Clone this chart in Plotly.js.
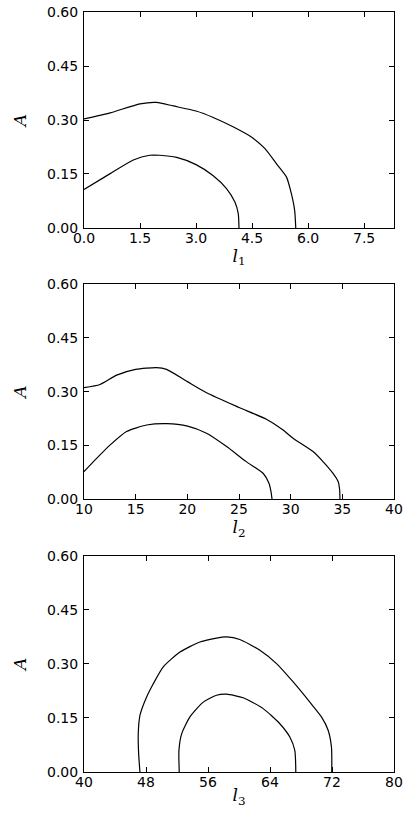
<!DOCTYPE html>
<html>
<head>
<meta charset="utf-8">
<script src="https://cdn.plot.ly/plotly-3.0.1.min.js"></script>
<style>
  html, body { margin: 0; padding: 0; background: #fff; }
  #plot { width: 415px; height: 817px; }
</style>
</head>
<body>
<div id="plot"></div>
<script>
// panel 1: A vs l1
const l1Outer = [0, 0.7, 1.5, 1.94, 2.39, 3.0, 3.46, 3.99, 4.49, 4.84, 5.15, 5.42, 5.55, 5.64, 5.67];
const a1Outer = [0.303, 0.320, 0.345, 0.349, 0.339, 0.325, 0.307, 0.281, 0.252, 0.221, 0.179, 0.142, 0.096, 0.049, 0];
const l1Inner = [0, 0.7, 1.32, 1.76, 2.03, 2.48, 3.0, 3.46, 3.81, 4.04, 4.13, 4.15];
const a1Inner = [0.107, 0.151, 0.189, 0.202, 0.202, 0.196, 0.176, 0.145, 0.110, 0.072, 0.040, 0];

// panel 2: A vs l2
const l2Outer = [10, 11.55, 13.16, 15, 17.02, 17.99, 20, 21.86, 25, 27.65, 29.27, 30.23, 32.16, 33.13, 34.1, 34.6, 34.74, 34.77];
const a2Outer = [0.311, 0.320, 0.346, 0.362, 0.367, 0.362, 0.328, 0.297, 0.256, 0.223, 0.193, 0.170, 0.133, 0.105, 0.072, 0.049, 0.026, 0];
const l2Inner = [10, 11.22, 12.51, 14.12, 16.06, 18.0, 20.03, 21.86, 23.8, 25.7, 27.35, 27.9, 28.1, 28.2];
const a2Inner = [0.077, 0.114, 0.151, 0.189, 0.207, 0.211, 0.204, 0.184, 0.147, 0.105, 0.072, 0.045, 0.021, 0];

// panel 3: A vs l3
const l3Outer = [47.22, 47.05, 47.0, 47.22, 48.08, 48.94, 50.23, 52.38, 54.95, 57.1, 58.39, 60.1, 62.7, 64.84, 66.99, 69.14, 70.64, 71.5, 71.93, 71.97];
const a3Outer = [0, 0.051, 0.106, 0.157, 0.208, 0.245, 0.292, 0.333, 0.361, 0.372, 0.375, 0.368, 0.338, 0.301, 0.250, 0.194, 0.153, 0.116, 0.069, 0];
const l3Inner = [52.29, 52.25, 52.6, 53.67, 55.39, 57.1, 58.39, 60.54, 63.12, 65.27, 66.56, 67.2, 67.33];
const a3Inner = [0, 0.060, 0.106, 0.153, 0.194, 0.213, 0.216, 0.206, 0.176, 0.134, 0.097, 0.060, 0];

const xRanges = [[0, 8.3], [10, 40], [40, 80]];
const xTicks = [[0, 1.5, 3, 4.5, 6, 7.5], [10, 15, 20, 25, 30, 35, 40], [40, 48, 56, 64, 72, 80]];
const xTickText = [['0.0', '1.5', '3.0', '4.5', '6.0', '7.5'], ['10', '15', '20', '25', '30', '35', '40'], ['40', '48', '56', '64', '72', '80']];
const yTicks = [0, 0.15, 0.3, 0.45, 0.6];
const yTickText = ['0.00', '0.15', '0.30', '0.45', '0.60'];
const xLabels = ['<i>l</i><sub>1</sub>', '<i>l</i><sub>2</sub>', '<i>l</i><sub>3</sub>'];

const curves = [
    [l1Outer, a1Outer, 1], [l1Inner, a1Inner, 1],
    [l2Outer, a2Outer, 2], [l2Inner, a2Inner, 2],
    [l3Outer, a3Outer, 3], [l3Inner, a3Inner, 3]
];

const data = curves.map(([x, y, k]) => ({
    x: x,
    y: y,
    xaxis: k === 1 ? 'x' : 'x' + k,
    yaxis: k === 1 ? 'y' : 'y' + k,
    mode: 'lines',
    type: 'scatter',
    line: { color: '#000', width: 1.2, shape: 'spline', smoothing: 0.6 },
    showlegend: false,
    hoverinfo: 'skip'
}));

const tickFont = { family: 'DejaVu Sans', size: 14, color: '#000' };
const titleFont = { family: 'DejaVu Serif', size: 17, color: '#000' };
const domains = [[0.7158, 1], [0.3588, 0.6421], [0, 0.2843]];

const layout = {
    width: 415,
    height: 817,
    margin: { l: 84, r: 21, t: 12, b: 45 },
    paper_bgcolor: '#fff',
    plot_bgcolor: '#fff',
    showlegend: false
};

[0, 1, 2].forEach(i => {
    const sfx = i === 0 ? '' : String(i + 1);
    layout['xaxis' + sfx] = {
        domain: [0, 1],
        anchor: 'y' + sfx,
        range: xRanges[i],
        tickmode: 'array',
        tickvals: xTicks[i],
        ticktext: xTickText[i],
        ticks: 'inside',
        ticklen: 5,
        tickcolor: '#000',
        showline: true,
        linecolor: '#000',
        linewidth: 1,
        mirror: 'ticks',
        showgrid: false,
        zeroline: false,
        tickfont: tickFont,
        ticklabelstandoff: -3,
        title: { text: xLabels[i], font: titleFont, standoff: 0 }
    };
    layout['yaxis' + sfx] = {
        domain: domains[i],
        anchor: 'x' + sfx,
        range: [0, 0.6],
        tickmode: 'array',
        tickvals: yTicks,
        ticktext: yTickText,
        ticks: 'inside',
        ticklen: 5,
        tickcolor: '#000',
        showline: true,
        linecolor: '#000',
        linewidth: 1,
        mirror: 'ticks',
        showgrid: false,
        zeroline: false,
        tickfont: tickFont,
        ticklabelstandoff: 2,
        title: { text: '<i>A</i>', font: titleFont, standoff: 16 }
    };
});

Plotly.newPlot('plot', data, layout, { staticPlot: true });
</script>
</body>
</html>
